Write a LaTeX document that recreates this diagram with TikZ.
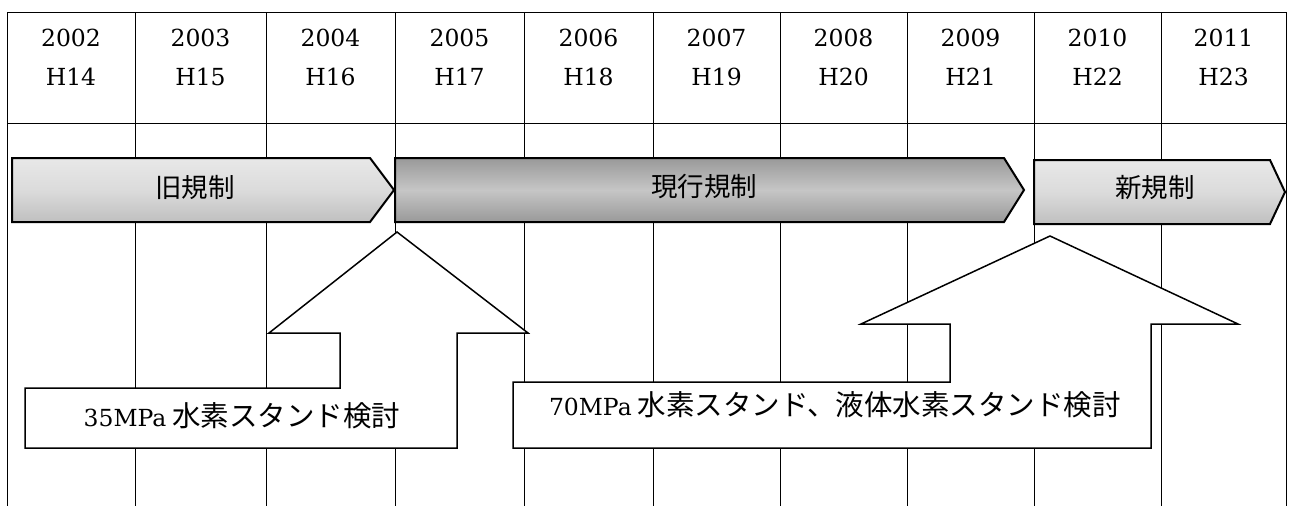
\documentclass[tikz,border=0pt]{standalone}
\usepackage{fontspec}
\setmainfont{DejaVu Serif}
\newfontfamily\cjk{Noto Sans CJK JP}
\begin{document}
\begin{tikzpicture}[x=1pt,y=-1pt,
  gridline/.style={draw=black,line width=1pt},
  lightbar/.style={draw=black,line width=2pt,line join=miter,top color=gray!18,bottom color=gray!50,middle color=gray!28},
  darkbar/.style={draw=black,line width=2pt,line join=miter,top color=gray!80,bottom color=gray!80,middle color=gray!45},
  uparrow/.style={draw=black,fill=white,line width=1.5pt,line join=miter},
  hdr/.style={font=\fontsize{23.5}{28}\selectfont,inner sep=0pt},
  barlbl/.style={font=\cjk\fontsize{26.5}{30}\selectfont,inner sep=0pt},
  boxlbl/.style={font=\fontsize{23.5}{32}\selectfont,inner sep=0pt}]
\useasboundingbox (0,0) rectangle (1289,506);
\fill[white] (0,0) rectangle (1289,506);
% grid
\foreach \x in {7,135,266,395,524,653,780,907,1034,1161,1286}
  \draw[gridline] (\x,12) -- (\x,506);
\draw[gridline] (7,12) -- (1286,12);
\draw[gridline] (7,123) -- (1286,123);
% header
\foreach \yr/\h/\cx [count=\i] in {2002/H14/71,2003/H15/200.5,2004/H16/330.5,2005/H17/459.5,2006/H18/588.5,2007/H19/716.5,2008/H20/843.5,2009/H21/970.5,2010/H22/1097.5,2011/H23/1223.5}{
  \node[hdr] (yr\i) at (\cx,38) {\yr};
  \node[hdr] (h\i) at (\cx,77) {\h};
}
% bars
\path[lightbar] (12,158) -- (370,158) -- (394,190) -- (370,222) -- (12,222) -- cycle;
\path[darkbar] (395,158) -- (1004,158) -- (1024,190) -- (1004,222) -- (395,222) -- cycle;
\path[lightbar] (1034,160) -- (1270,160) -- (1285,192) -- (1270,224) -- (1034,224) -- cycle;
\node[barlbl] (b1) at (195,187) {旧規制};
\node[barlbl] (b2) at (704,186) {現行規制};
\node[barlbl] (b3) at (1155,188) {新規制};
% up arrows
\path[uparrow] (397,232) -- (528,333) -- (457,333) -- (457,448) -- (25,448) -- (25,388) -- (340,388) -- (340,333) -- (269,333) -- cycle;
\path[uparrow] (1050,236) -- (1238,324) -- (1151,324) -- (1151,448) -- (513,448) -- (513,382) -- (950,382) -- (950,324) -- (861,324) -- cycle;
\node[boxlbl] (t1) at (242,416) {35MPa\hspace{0.25em}{\cjk\fontsize{28.5}{32}\selectfont 水素スタンド検討}};
\node[boxlbl] (t2) at (835,405) {70MPa\hspace{0.25em}{\cjk\fontsize{28.5}{32}\selectfont 水素スタンド、液体水素スタンド検討}};
\end{tikzpicture}
\end{document}
